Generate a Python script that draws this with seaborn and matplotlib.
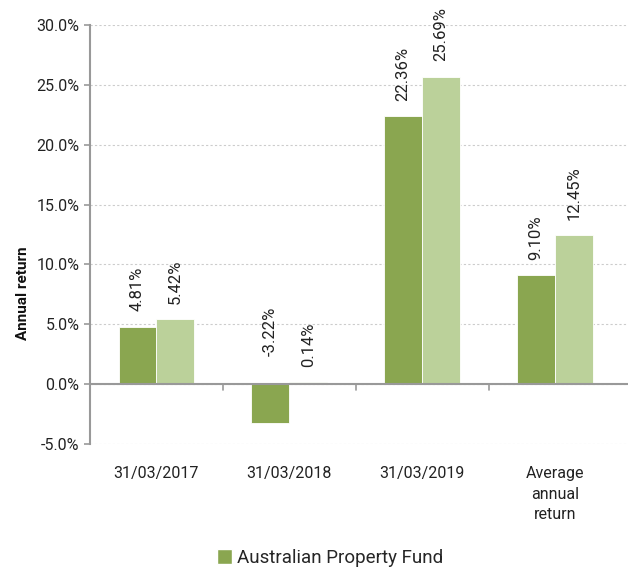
import matplotlib
matplotlib.use("Agg")
import matplotlib.pyplot as plt
from matplotlib.patches import Patch
import seaborn as sns
import pandas as pd

# Dados do gráfico
categories = ["31/03/2017", "31/03/2018", "31/03/2019", "Average\nannual\nreturn"]
series_names = ["Australian Property Fund", "Benchmark"]
fund_values = [4.81, -3.22, 22.36, 9.10]
bench_values = [5.42, 0.14, 25.69, 12.45]
colors = ["#8AA650", "#BBD19A"]

df = pd.DataFrame({
    "Category": categories * 2,
    "Series": [series_names[0]] * 4 + [series_names[1]] * 4,
    "Return": fund_values + bench_values,
})

sns.set_style("white")
plt.rcParams["font.family"] = ["Roboto", "DejaVu Sans"]

fig = plt.figure(figsize=(6.28, 5.69), dpi=100)
ax = fig.add_axes([0.1433, 0.2197, 0.8567, 0.7364])

sns.barplot(data=df, x="Category", y="Return", hue="Series", palette=colors,
            width=0.57, ax=ax, legend=False, saturation=1,
            edgecolor="white", linewidth=0.6)

# Rótulos de valor
for container in ax.containers:
    for bar in container:
        v = bar.get_height()
        x = bar.get_x() + bar.get_width() / 2
        ax.annotate(f"{v:.2f}%", (x, max(v, 0)), xytext=(0, 11 if v >= 0 else 20),
                    textcoords="offset points", rotation=90, ha="center", va="bottom",
                    fontsize=12, color="#222222")

ax.set_ylim(-5, 30)
ax.set_xlim(-0.5, 3.55)
ax.set_yticks(range(-5, 31, 5))
ax.set_yticklabels([f"{t:.1f}%" for t in range(-5, 31, 5)], fontsize=11.5, color="#222222")
ax.set_ylabel("Annual return", fontsize=11, fontweight="bold", color="#111111")
ax.yaxis.set_label_coords(-0.111, 0.36)
ax.set_xlabel("")
ax.tick_params(axis="x", length=0, pad=16, labelsize=11.5, colors="#222222")
ax.tick_params(axis="y", length=4, width=1.2, color="#999999", direction="out", left=True)
for lbl in ax.get_xticklabels():
    lbl.set_linespacing(1.45)

ax.grid(axis="y", linestyle=(0, (2, 2)), color="#cccccc", linewidth=0.8)
ax.set_axisbelow(True)
for s in ["top", "right", "bottom"]:
    ax.spines[s].set_visible(False)
ax.spines["left"].set_color("#999999")
ax.spines["left"].set_linewidth(1.5)

# Linha do zero com marcas entre categorias
ax.axhline(0, color="#999999", linewidth=1.5, zorder=3)
for i in range(len(categories) - 1):
    ax.plot([i + 0.5, i + 0.5], [0, -0.45], color="#999999", linewidth=1.2,
            clip_on=False, zorder=3)

handles = [Patch(facecolor=colors[0], label=series_names[0])]
fig.legend(handles=handles, loc="center left", bbox_to_anchor=(0.345, 1 - 558 / 569),
           frameon=False, fontsize=13.5, handlelength=0.8, handleheight=0.8,
           handletextpad=0.3, borderpad=0, borderaxespad=0)

fig.savefig("out.png", dpi=100)
